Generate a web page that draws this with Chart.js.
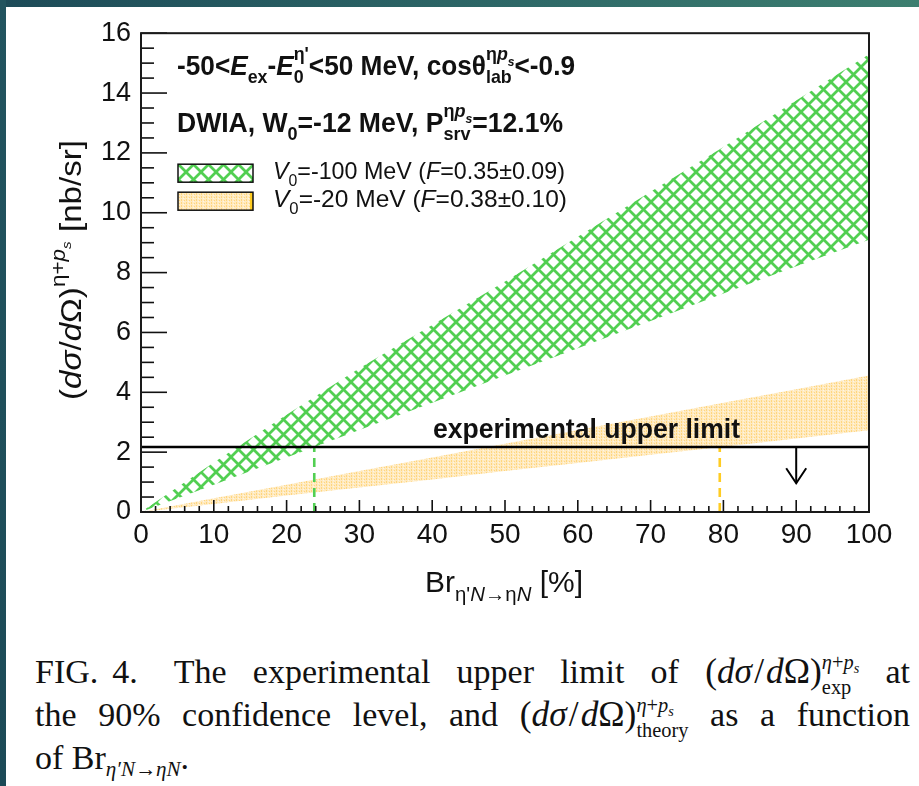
<!DOCTYPE html>
<html>
<head>
<meta charset="utf-8">
<title>Br dependence of the eta+p cross section</title>
<script src="https://cdn.jsdelivr.net/npm/chart.js@4.4.1/dist/chart.umd.min.js"></script>
<style>
  html, body { margin: 0; padding: 0; background: #fff; }
  body { width: 919px; height: 786px; position: relative; overflow: hidden; }
  #topbar { position: absolute; left: 0; top: 0; width: 919px; height: 7px;
            background: linear-gradient(to right, #1d4b58, #2f6a68 60%, #3d7f70); }
  #sidebar { position: absolute; left: 0; top: 0; width: 6px; height: 786px;
             background: linear-gradient(to bottom, #22545f, #1c4a57); }
  #wrap { position: absolute; left: 6px; top: 7px; width: 913px; height: 613px; }
  #caption { position: absolute; left: 35px; top: 650px; width: 875px;
             font-family: "Liberation Serif", "DejaVu Serif", serif; font-size: 34px;
             color: #111; line-height: 43px; }
  #caption .ln { text-align: justify; text-align-last: justify; white-space: nowrap; height: 43px; }
  #caption .ln.last { text-align-last: left; }
  .gap { display: inline-block; }
  .m { font-size: 1.04em; }
  .sl { padding: 0 0.06em; }
  .ss { display: inline-block; font-size: 0.6em; line-height: 0.95em;
        vertical-align: -0.55em; text-align: left; }
  .ss span { display: block; }
  .sb { font-size: 0.62em; vertical-align: -0.35em; font-style: italic; }
  .sb2 { font-size: 0.7em; vertical-align: -0.25em; }
</style>
</head>
<body>
<div id="topbar"></div>
<div id="sidebar"></div>
<div id="wrap"><canvas id="chart"></canvas></div>
<div id="caption">
  <div class="ln">FIG.<span class="gap" style="width:14px"></span>4.<span class="gap" style="width:36px"></span>The experimental upper limit of <span class="m">(<i>dσ</i><span class="sl">/</span><i>d</i>Ω)</span><span class="ss"><span><i>η</i>+<i>p<span class="sb2" style="display:inline">s</span></i></span><span>exp</span></span> at</div>
  <div class="ln">the 90% confidence level, and <span class="m">(<i>dσ</i><span class="sl">/</span><i>d</i>Ω)</span><span class="ss"><span><i>η</i>+<i>p<span class="sb2" style="display:inline">s</span></i></span><span>theory</span></span> as a function</div>
  <div class="ln last">of Br<span class="sb">η′N→ηN</span>.</div>
</div>
<script>
// branching ratio grid [%] and band edges [nb/sr]
const brPercent  = [0, 10, 20, 30, 40, 50, 60, 70, 80, 90, 100];
const greenHigh  = [0, 1.65, 3.25, 4.8, 6.25, 7.7, 9.2, 10.7, 12.2, 13.75, 15.3];
const greenLow   = [0, 0.91, 1.82, 2.74, 3.65, 4.56, 5.47, 6.38, 7.3, 8.21, 9.1];
const orangeHigh = [0, 0.46, 0.91, 1.37, 1.82, 2.28, 2.74, 3.19, 3.65, 4.1, 4.56];
const orangeLow  = [0, 0.27, 0.55, 0.82, 1.09, 1.37, 1.64, 1.91, 2.18, 2.46, 2.73];

// experimental upper limit and crossing points
const upperLimit = 2.17;
const greenCross = 23.8;
const orangeCross = 79.5;
const arrowX = 90;
const arrowTip = 0.96;

const xTicks = [0, 10, 20, 30, 40, 50, 60, 70, 80, 90, 100];
const yTicks = [0, 2, 4, 6, 8, 10, 12, 14, 16];

const GREEN = '#52cf52';
const ORANGE = '#ffcc22';
const SANS = '"Liberation Sans", Arial, sans-serif';

function pts(ys) { return brPercent.map((x, i) => ({ x: x, y: ys[i] })); }

// cross-hatch for the V0=-100 MeV band
function hatchPattern() {
  const c = document.createElement('canvas');
  const s = 15;
  c.width = s; c.height = s;
  const g = c.getContext('2d');
  g.strokeStyle = GREEN;
  g.lineWidth = 2.7;
  for (const o of [-s, 0, s]) {
    g.beginPath(); g.moveTo(o, 0); g.lineTo(o + s, s); g.stroke();
    g.beginPath(); g.moveTo(o, s); g.lineTo(o + s, 0); g.stroke();
  }
  return g.createPattern(c, 'repeat');
}

// fine dotted fill for the V0=-20 MeV band
function dotPattern() {
  const c = document.createElement('canvas');
  c.width = 5; c.height = 3;
  const g = c.getContext('2d');
  g.fillStyle = '#ffeac0';
  g.fillRect(0, 0, 5, 3);
  g.fillStyle = '#ffd67e';
  g.fillRect(0, 0, 1, 2);
  g.fillRect(3, 1, 1, 1);
  g.fillStyle = '#fff6e2';
  g.fillRect(2, 2, 1, 1);
  return g.createPattern(c, 'repeat');
}

const hatch = hatchPattern();
const dots = dotPattern();

// text with sub/superscripts: items are {t, i} or {up:[...], dn:[...]}
function rich(ctx, x, y, items, size, bold, draw) {
  let cx = x;
  for (const it of items) {
    if (it.up || it.dn) {
      let w = 0;
      const sz = size * 0.68;
      if (it.up) w = Math.max(w, rich(ctx, cx, y - size * 0.55, it.up, sz, bold, draw));
      if (it.dn) w = Math.max(w, rich(ctx, cx, y + size * 0.3, it.dn, sz, bold, draw));
      cx += w;
    } else {
      ctx.font = (it.i ? 'italic ' : '') + (bold ? 'bold ' : '') + size + 'px ' + SANS;
      if (draw) ctx.fillText(it.t, cx, y);
      cx += ctx.measureText(it.t).width;
    }
  }
  return cx - x;
}

// same, squeezed or stretched horizontally to a given length
function richFit(ctx, x, y, items, size, bold, len) {
  const w = rich(ctx, 0, 0, items, size, bold, false);
  ctx.save();
  ctx.translate(x, y);
  ctx.scale(len / w, 1);
  rich(ctx, 0, 0, items, size, bold, true);
  ctx.restore();
}

const etaPs = [{ t: 'η' }, { t: 'p', i: true }, { dn: [{ t: 's', i: true }] }];

const headLine1 = [
  { t: '-50<' }, { t: 'E', i: true }, { dn: [{ t: 'ex' }] }, { t: '-' }, { t: 'E', i: true },
  { up: [{ t: 'η\'' }], dn: [{ t: '0' }] }, { t: '<50 MeV, cosθ' },
  { up: etaPs, dn: [{ t: 'lab' }] }, { t: '<-0.9' }
];
const headLine2 = [
  { t: 'DWIA, W' }, { dn: [{ t: '0' }] }, { t: '=-12 MeV, P' },
  { up: etaPs, dn: [{ t: 'srv' }] }, { t: '=12.1%' }
];
const legendGreen = [
  { t: 'V', i: true }, { dn: [{ t: '0' }] }, { t: '=-100 MeV (' }, { t: 'F', i: true }, { t: '=0.35±0.09)' }
];
const legendOrange = [
  { t: 'V', i: true }, { dn: [{ t: '0' }] }, { t: '=-20 MeV (' }, { t: 'F', i: true }, { t: '=0.38±0.10)' }
];
const xTitle = [
  { t: 'Br' }, { dn: [{ t: 'η\'' }, { t: 'N', i: true }, { t: '→η' }, { t: 'N', i: true }] }, { t: ' [%]' }
];
const yTitle = [
  { t: '(' }, { t: 'dσ', i: true }, { t: '/' }, { t: 'd', i: true }, { t: 'Ω)' },
  { up: [{ t: 'η+' }, { t: 'p', i: true }, { dn: [{ t: 's', i: true }] }] }, { t: ' [nb/sr]' }
];

const decor = {
  id: 'decor',
  afterDatasetsDraw(chart) {
    const ctx = chart.ctx;
    const a = chart.chartArea;
    const xs = chart.scales.x, ys = chart.scales.y;
    ctx.save();

    // arrow marking the upper limit
    const ax = xs.getPixelForValue(arrowX);
    const ay0 = ys.getPixelForValue(upperLimit);
    const ay1 = ys.getPixelForValue(arrowTip);
    ctx.strokeStyle = '#000';
    ctx.lineWidth = 2;
    ctx.beginPath(); ctx.moveTo(ax, ay0); ctx.lineTo(ax, ay1); ctx.stroke();
    ctx.beginPath(); ctx.moveTo(ax - 10, ay1 - 15); ctx.lineTo(ax, ay1); ctx.lineTo(ax + 10, ay1 - 15); ctx.stroke();

    // inward ticks
    ctx.lineWidth = 1.6;
    ctx.strokeStyle = '#111';
    for (let v = 0; v <= 100.001; v += 2) {
      const px = xs.getPixelForValue(v);
      const len = Math.abs(v % 10) < 0.01 ? 12 : 6;
      ctx.beginPath(); ctx.moveTo(px, a.bottom); ctx.lineTo(px, a.bottom - len); ctx.stroke();
    }
    for (let v = 0; v <= 16.001; v += 0.5) {
      const py = ys.getPixelForValue(v);
      const len = Math.abs(v % 2) < 0.01 ? 26 : 13;
      ctx.beginPath(); ctx.moveTo(a.left, py); ctx.lineTo(a.left + len, py); ctx.stroke();
    }

    // frame
    ctx.lineWidth = 2;
    ctx.strokeStyle = '#1a1a1a';
    ctx.strokeRect(a.left, a.top, a.right - a.left, a.bottom - a.top);

    // header text and legend
    ctx.fillStyle = '#111';
    ctx.textBaseline = 'alphabetic';
    richFit(ctx, a.left + 36, a.top + 42, headLine1, 27, true, 398);
    richFit(ctx, a.left + 36, a.top + 99, headLine2, 27, true, 386);

    const bx = a.left + 37, bw = 75;
    ctx.fillStyle = hatch;
    ctx.fillRect(bx, a.top + 131, bw, 18);
    ctx.fillStyle = dots;
    ctx.fillRect(bx, a.top + 159, bw, 18);
    ctx.fillStyle = ORANGE;
    ctx.fillRect(bx + bw - 3, a.top + 159, 3, 18);
    ctx.lineWidth = 1.5;
    ctx.strokeStyle = '#111';
    ctx.strokeRect(bx, a.top + 131, bw, 18);
    ctx.strokeRect(bx, a.top + 159, bw, 18);
    ctx.fillStyle = '#111';
    richFit(ctx, a.left + 132, a.top + 146, legendGreen, 24, false, 292);
    richFit(ctx, a.left + 132, a.top + 174, legendOrange, 24, false, 294);

    // label of the limit line
    const lbl = [{ t: 'experimental upper limit' }];
    richFit(ctx, 433 - 6, ys.getPixelForValue(upperLimit) - 9, lbl, 27, true, 307);

    // axis titles
    richFit(ctx, 425 - 6, 592 - 7, xTitle, 30, false, 158);
    ctx.translate(81 - 6, 270 - 7);
    ctx.rotate(-Math.PI / 2);
    richFit(ctx, -130, 0, yTitle, 29, false, 260);
    ctx.restore();
  }
};

const lineOpts = { pointRadius: 0, tension: 0, fill: false };

new Chart(document.getElementById('chart'), {
  type: 'line',
  data: {
    datasets: [
      Object.assign({ data: pts(orangeLow), borderWidth: 0, borderColor: 'rgba(0,0,0,0)', order: 5 }, lineOpts),
      Object.assign({}, lineOpts, { data: pts(orangeHigh), borderWidth: 0, borderColor: 'rgba(0,0,0,0)',
        backgroundColor: dots, fill: '-1', order: 5 }),
      Object.assign({ data: pts(greenLow), borderWidth: 0, borderColor: 'rgba(0,0,0,0)', order: 4 }, lineOpts),
      Object.assign({}, lineOpts, { data: pts(greenHigh), borderWidth: 0, borderColor: 'rgba(0,0,0,0)',
        backgroundColor: hatch, fill: '-1', order: 4 }),
      Object.assign({ data: [{ x: 0, y: upperLimit }, { x: 100, y: upperLimit }],
        borderColor: '#000', borderWidth: 2.6, order: 1 }, lineOpts),
      Object.assign({ data: [{ x: greenCross, y: 0 }, { x: greenCross, y: upperLimit }],
        borderColor: GREEN, borderWidth: 2.6, borderDash: [9, 6], order: 2 }, lineOpts),
      Object.assign({ data: [{ x: orangeCross, y: 0 }, { x: orangeCross, y: upperLimit }],
        borderColor: ORANGE, borderWidth: 2.6, borderDash: [9, 6], order: 2 }, lineOpts)
    ]
  },
  options: {
    responsive: true,
    maintainAspectRatio: false,
    animation: false,
    events: [],
    layout: { padding: { left: 0, top: 24, right: 50, bottom: 48 } },
    plugins: { legend: { display: false }, tooltip: { enabled: false } },
    scales: {
      x: {
        type: 'linear', min: 0, max: 100,
        afterBuildTicks: s => { s.ticks = xTicks.map(v => ({ value: v })); },
        afterFit: s => { s.height = 60; },
        grid: { display: false, drawTicks: false }, border: { display: false },
        ticks: { color: '#111', padding: 6, maxRotation: 0, font: { family: SANS, size: 28 } }
      },
      y: {
        type: 'linear', min: 0, max: 16,
        afterBuildTicks: s => { s.ticks = yTicks.map(v => ({ value: v })); },
        afterFit: s => { s.width = 135; },
        grid: { display: false, drawTicks: false }, border: { display: false },
        ticks: { color: '#111', padding: 10, font: { family: SANS, size: 27 } }
      }
    }
  },
  plugins: [decor]
});
</script>
</body>
</html>
